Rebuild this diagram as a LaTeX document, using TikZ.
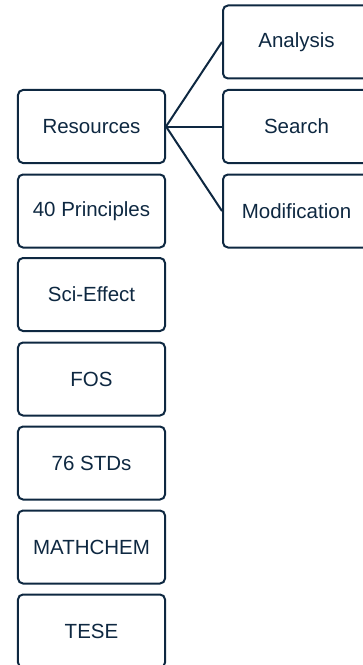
\documentclass[tikz,border=0pt]{standalone}
\usepackage{fontspec}
\setmainfont{Liberation Sans}
\definecolor{navy}{HTML}{0E2841}
\begin{document}
\begin{tikzpicture}[x=1bp,y=-1bp,
  box/.style={draw=navy,line width=2bp,rounded corners=5bp,minimum width=147bp,minimum height=73bp,inner sep=0pt,text=navy,font=\fontsize{20.5bp}{24bp}\selectfont},
  link/.style={draw=navy,line width=2bp}]
\useasboundingbox (0,0) rectangle (362,665);
\node[box] (res) at (91.5,126.5) {Resources};
\node[box] (pr) at (91.5,211) {40 Principles};
\node[box] (sci) at (91.5,294.5) {Sci-Effect};
\node[box] (fos) at (91.5,379) {FOS};
\node[box] (std) at (91.5,463) {76 STDs};
\node[box] (mc) at (91.5,547) {MATHCHEM};
\node[box] (tese) at (91.5,631) {TESE};
\node[box] (an) at (296.5,42) {Analysis};
\node[box] (se) at (296.5,126.5) {Search};
\node[box] (mo) at (296.5,211) {Modification};
\draw[link] (res.east) -- (an.west);
\draw[link] (res.east) -- (se.west);
\draw[link] (res.east) -- (mo.west);
\end{tikzpicture}
\end{document}
